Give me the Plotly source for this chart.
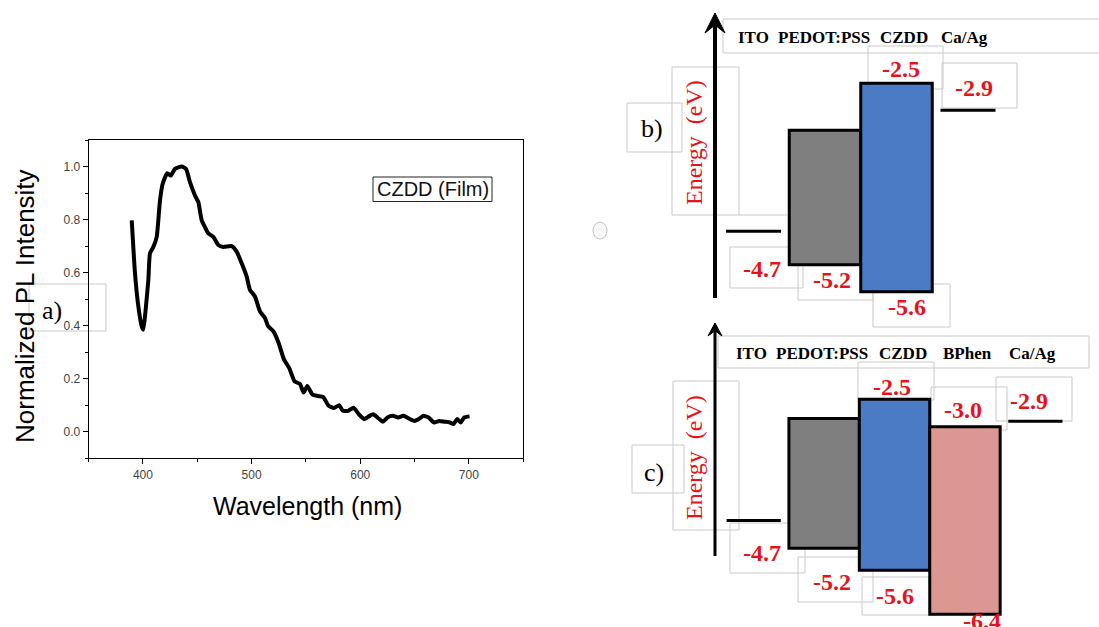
import plotly.graph_objects as go

W, H = 1099, 627

# ---------------- PL spectrum of the CZDD film ----------------
wavelength = [389.7, 392.7, 395.8, 398.9, 400.3, 401.9, 405.0, 406.5, 409.6, 412.7,
              415.7, 418.2, 422.4, 425.6, 429.5, 435.7, 439.7, 443.3, 447.9, 451.0,
              454.1, 457.1, 460.2, 464.8, 469.4, 474.0, 481.7, 486.3, 490.9, 495.5,
              498.5, 503.1, 507.7, 512.3, 515.4, 519.9, 524.9, 529.8, 534.7, 539.6,
              544.6, 547.9, 551.2, 556.1, 561.0, 566.0, 570.9, 575.8, 580.7, 584.0,
              588.9, 593.9, 598.8, 603.7, 608.6, 611.9, 616.9, 620.8, 625.1, 630.0,
              635.0, 639.9, 644.8, 649.7, 654.7, 657.9, 662.9, 667.8, 672.7, 677.7,
              682.6, 685.9, 689.2, 692.4, 695.7, 700.6]
intensity = [0.797, 0.598, 0.472, 0.397, 0.385, 0.435, 0.573, 0.673, 0.697, 0.735,
             0.872, 0.935, 0.975, 0.966, 0.991, 1.000, 0.991, 0.941, 0.891, 0.866,
             0.797, 0.772, 0.748, 0.735, 0.704, 0.697, 0.700, 0.679, 0.635, 0.585,
             0.535, 0.510, 0.454, 0.429, 0.397, 0.380, 0.335, 0.273, 0.240, 0.190,
             0.180, 0.148, 0.173, 0.140, 0.135, 0.131, 0.098, 0.090, 0.100, 0.079,
             0.079, 0.091, 0.066, 0.048, 0.060, 0.066, 0.050, 0.038, 0.054, 0.060,
             0.054, 0.060, 0.050, 0.041, 0.050, 0.060, 0.054, 0.035, 0.041, 0.038,
             0.035, 0.029, 0.048, 0.035, 0.054, 0.058]
x_ticks = [400, 500, 600, 700]
y_ticks = [0.0, 0.2, 0.4, 0.6, 0.8, 1.0]
legend_text = "CZDD (Film)"

# ---------------- energy levels (eV) ----------------
# device b: ITO / PEDOT:PSS / CZDD / Ca/Ag
b_layers = ["ITO", "PEDOT:PSS", "CZDD", "Ca/Ag"]
b_upper = [None, -3.2, -2.5, None]
b_lower = [None, -5.2, -5.6, None]
b_work = [-4.7, None, None, -2.9]
# device c: ITO / PEDOT:PSS / CZDD / BPhen / Ca/Ag
c_layers = ["ITO", "PEDOT:PSS", "CZDD", "BPhen", "Ca/Ag"]
c_upper = [None, -2.85, -2.5, -3.0, None]
c_lower = [None, -5.2, -5.6, -6.4, None]
c_work = [-4.7, None, None, None, -2.9]

layer_colors = {"PEDOT:PSS": "#7f7f7f", "CZDD": "#4a7bc4", "BPhen": "#dc9792"}
RED = "#e8121c"
GRID_BOX = "#c9c9c9"


def px(x):
    return x / W


def py(y):
    return 1 - y / H


fig = go.Figure()

# PL curve
fig.add_trace(go.Scatter(x=wavelength, y=intensity, mode="lines",
                         line=dict(color="black", width=4, shape="spline", smoothing=0.5),
                         xaxis="x", yaxis="y", showlegend=False, hoverinfo="skip"))


def add_diagram(layers, upper, lower, work, xa, ya):
    bx, by, bb, bc = [], [], [], []
    for i, name in enumerate(layers):
        if upper[i] is not None:
            bx.append(i)
            by.append(upper[i] - lower[i])
            bb.append(lower[i])
            bc.append(layer_colors[name])
        if work[i] is not None:
            fig.add_trace(go.Scatter(x=[i - 0.385, i + 0.385], y=[work[i], work[i]],
                                     mode="lines", line=dict(color="black", width=3),
                                     xaxis=xa, yaxis=ya, showlegend=False,
                                     hoverinfo="skip"))
    fig.add_trace(go.Bar(x=bx, y=by, base=bb, width=1.0,
                         marker=dict(color=bc, line=dict(color="black", width=3)),
                         xaxis=xa, yaxis=ya, showlegend=False, hoverinfo="skip"))


add_diagram(b_layers, b_upper, b_lower, b_work, "x2", "y2")
add_diagram(c_layers, c_upper, c_lower, c_work, "x3", "y3")

shapes = []
annotations = []


def gray_rect(x0, y0, x1, y1, color=GRID_BOX):
    shapes.append(dict(type="rect", xref="paper", yref="paper",
                       x0=px(x0), x1=px(x1), y0=py(y1), y1=py(y0),
                       line=dict(color=color, width=1), fillcolor="rgba(0,0,0,0)",
                       layer="below"))


def gray_line(x0, y0, x1, y1):
    shapes.append(dict(type="line", xref="paper", yref="paper",
                       x0=px(x0), x1=px(x1), y0=py(y0), y1=py(y1),
                       line=dict(color=GRID_BOX, width=1), layer="below"))


def text(x, y, s, size, color="black", family="Liberation Serif", bold=False,
         angle=0, xanchor="center"):
    annotations.append(dict(x=px(x), y=py(y), xref="paper", yref="paper", text=s,
                            showarrow=False, xanchor=xanchor, yanchor="middle",
                            textangle=angle,
                            font=dict(size=size, color=color, family=family,
                                      weight="bold" if bold else "normal")))


def energy_arrow(x, y_bottom, y_tip, half, head, width):
    shapes.append(dict(type="line", xref="paper", yref="paper",
                       x0=px(x), x1=px(x), y0=py(y_bottom), y1=py(y_tip + head * 0.6),
                       line=dict(color="black", width=width)))
    path = (f"M {px(x - half)},{py(y_tip + head)} L {px(x)},{py(y_tip)} "
            f"L {px(x + half)},{py(y_tip + head)} L {px(x)},{py(y_tip + head * 0.6)} Z")
    shapes.append(dict(type="path", xref="paper", yref="paper", path=path,
                       fillcolor="black", line=dict(color="black", width=1)))


def fmt(v):
    return f"{v:.1f}"


# ---- PL panel texts ----
text(25, 306, "Normalized PL Intensity", 26, "black", "Liberation Sans", angle=-90)
text(307, 506, "Wavelength (nm)", 25, "black", "Liberation Sans")
shapes.append(dict(type="rect", xref="paper", yref="paper",
                   x0=px(373), x1=px(492), y0=py(201.5), y1=py(177),
                   line=dict(color="#222", width=1), fillcolor="white"))
text(432.5, 189.5, legend_text, 20, "#111", "Liberation Sans")
gray_rect(29, 284, 106, 331)
text(52, 310, "a)", 26)

# ---- device b ----
energy_arrow(715, 298, 13, 10, 20, 4)
gray_rect(723, 19, 1100, 53)
for name, xs in zip(b_layers, [736, 776, 878, 939]):
    text(xs, 37, name, 17, bold=True, xanchor="left")
gray_rect(672, 67, 739, 215)
gray_line(739, 215, 787, 215)
text(694, 143, "Energy  (eV)", 24, RED, angle=-90)
gray_rect(627, 103, 682, 152)
text(652, 128, "b)", 26)
gray_rect(868, 46, 943, 89)
gray_rect(942, 63, 1017, 108)
gray_rect(730, 247, 803, 288)
gray_rect(798, 263, 873, 300)
gray_rect(873, 284, 950, 327)
text(901, 69, fmt(b_upper[2]), 24, RED, bold=True)
text(974, 88, fmt(b_work[3]), 24, RED, bold=True)
text(762, 269, fmt(b_work[0]), 24, RED, bold=True)
text(832, 280, fmt(b_lower[1]), 24, RED, bold=True)
text(907, 307, fmt(b_lower[2]), 24, RED, bold=True)
shapes.append(dict(type="circle", xref="paper", yref="paper",
                   x0=px(593), x1=px(607), y0=py(239), y1=py(222),
                   line=dict(color="#c4c4c4", width=1), fillcolor="#f7f7f7"))

# ---- device c ----
energy_arrow(715, 556, 323, 7, 13, 3)
gray_rect(718, 336, 1089, 368)
for name, xs in zip(c_layers, [734, 774, 877, 941, 1007]):
    text(xs, 353, name, 17, bold=True, xanchor="left")
gray_rect(673, 381, 739, 530)
text(694, 458, "Energy  (eV)", 24, RED, angle=-90)
gray_rect(632, 445, 684, 493)
text(654, 472, "c)", 26)
gray_rect(858, 362, 934, 400)
gray_rect(931, 387, 1007, 430)
gray_rect(996, 377, 1072, 421)
gray_rect(730, 523, 805, 573)
gray_rect(798, 557, 873, 602)
gray_rect(862, 577, 937, 615)
text(892, 387, fmt(c_upper[2]), 24, RED, bold=True)
text(963, 410, fmt(c_upper[3]), 24, RED, bold=True)
text(1029, 401, fmt(c_work[4]), 24, RED, bold=True)
text(762, 553, fmt(c_work[0]), 24, RED, bold=True)
text(832, 582, fmt(c_lower[1]), 24, RED, bold=True)
text(895, 596, fmt(c_lower[2]), 24, RED, bold=True)
text(982, 621, fmt(c_lower[3]), 24, RED, bold=True)

tick_font = dict(family="Liberation Sans", size=12, color="#444")
fig.update_layout(
    width=W, height=H, margin=dict(l=0, r=0, t=0, b=0),
    paper_bgcolor="white", plot_bgcolor="white",
    barmode="overlay", showlegend=False,
    shapes=shapes, annotations=annotations,
    xaxis=dict(domain=[px(88.6), px(523.2)], range=[350, 750], anchor="y",
               tickvals=x_ticks, ticks="outside", ticklen=5, tickwidth=1,
               tickcolor="black", tickfont=tick_font, showgrid=False, zeroline=False,
               showline=True, linecolor="black", linewidth=1, mirror=True,
               minor=dict(dtick=50, tick0=0, ticks="outside", ticklen=3,
                          tickcolor="black", showgrid=False)),
    yaxis=dict(domain=[py(458.3), py(140)], range=[-0.1, 1.1], anchor="x",
               tickvals=y_ticks, tickformat=".1f", ticks="outside", ticklen=5,
               tickwidth=1, tickcolor="black", tickfont=tick_font, showgrid=False,
               zeroline=False, showline=True, linecolor="black", linewidth=1,
               mirror=True,
               minor=dict(dtick=0.1, tick0=0, ticks="outside", ticklen=3,
                          tickcolor="black", showgrid=False)),
    xaxis2=dict(domain=[px(600), 1], range=[(600 - 753.5) / 71.5, (1099 - 753.5) / 71.5],
                anchor="y2", visible=False, fixedrange=True),
    yaxis2=dict(domain=[py(310), 1], range=[-5.8714, -1.2617], anchor="x2",
                visible=False, fixedrange=True),
    xaxis3=dict(domain=[px(600), 1], range=[(600 - 753.7) / 70.42, (1099 - 753.7) / 70.42],
                anchor="y3", visible=False, fixedrange=True),
    yaxis3=dict(domain=[0, py(310)], range=[-6.6297, -0.8835], anchor="x3",
                visible=False, fixedrange=True),
)

fig.write_html("out.html")
